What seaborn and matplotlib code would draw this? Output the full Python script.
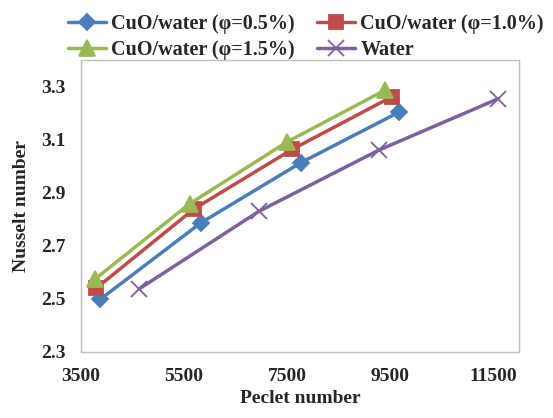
import pandas as pd
import seaborn as sns
import matplotlib.pyplot as plt

# values
series_names = ["CuO/water (φ=0.5%)", "CuO/water (φ=1.0%)", "CuO/water (φ=1.5%)", "Water"]
pe_05 = [3870, 5820, 7770, 9680]
nu_05 = [2.497, 2.785, 3.013, 3.204]
pe_10 = [3800, 5690, 7600, 9540]
nu_10 = [2.54, 2.838, 3.063, 3.262]
pe_15 = [3780, 5610, 7500, 9390]
nu_15 = [2.575, 2.858, 3.091, 3.285]
pe_w = [4630, 6950, 9280, 11600]
nu_w = [2.537, 2.829, 3.06, 3.254]

x_ticks = [3500, 5500, 7500, 9500, 11500]
y_ticks = [2.3, 2.5, 2.7, 2.9, 3.1, 3.3]

frames = []
for name, pe, nu in zip(series_names, [pe_05, pe_10, pe_15, pe_w], [nu_05, nu_10, nu_15, nu_w]):
    frames.append(pd.DataFrame({"Pe": pe, "Nu": nu, "Series": name}))
df = pd.concat(frames, ignore_index=True)

colors = {series_names[0]: "#4A7EBB", series_names[1]: "#BE4B48",
          series_names[2]: "#98B954", series_names[3]: "#7D60A0"}
markers = {series_names[0]: "D", series_names[1]: "s",
           series_names[2]: "^", series_names[3]: "x"}
msizes = {series_names[0]: 8, series_names[1]: 10, series_names[2]: 11, series_names[3]: 11}

sns.set_style("white")
plt.rcParams["font.family"] = ["Liberation Serif", "DejaVu Serif"]
plt.rcParams["font.weight"] = "bold"

fig = plt.figure(figsize=(5.53, 4.18), dpi=100)
ax = fig.add_axes([0.1465, 0.1586, 0.792, 0.698])

for name in series_names:
    sub = df[df["Series"] == name]
    sns.lineplot(data=sub, x="Pe", y="Nu", ax=ax, color=colors[name], marker=markers[name],
                 markersize=msizes[name], markeredgecolor=colors[name], markeredgewidth=1.3,
                 linewidth=2.5, label=name, sort=False)

ax.set_xlim(3500, 12000)
ax.set_ylim(2.3, 3.4)
ax.set_xticks(x_ticks)
ax.set_yticks(y_ticks)
ax.set_xticklabels([str(v) for v in x_ticks], fontsize=14, fontweight="bold")
ax.set_yticklabels([f"{v:.1f}" for v in y_ticks], fontsize=14, fontweight="bold")
ax.set_xlabel("Peclet number", fontsize=14, fontweight="bold", labelpad=3)
ax.set_ylabel("Nusselt number", fontsize=14, fontweight="bold", labelpad=8)

for s in ax.spines.values():
    s.set_color("#BFBFBF")
    s.set_linewidth(1)
ax.tick_params(axis="x", direction="out", length=4, color="#BFBFBF", width=1, pad=8)
ax.tick_params(axis="y", direction="out", length=4, color="#BFBFBF", width=1, pad=7)

# legend filled row by row, like the reference
handles, labels = ax.get_legend_handles_labels()
ax.legend_.remove()
order = [0, 2, 1, 3]
fig.legend([handles[i] for i in order], [labels[i] for i in order], ncol=2,
           loc="upper center", bbox_to_anchor=(0.553, 1.0), frameon=False,
           handlelength=1.9, columnspacing=1.1, handletextpad=0.25, labelspacing=0.3,
           borderpad=0.2, prop={"weight": "bold", "size": 14.5})

fig.savefig("out.png", dpi=100)
